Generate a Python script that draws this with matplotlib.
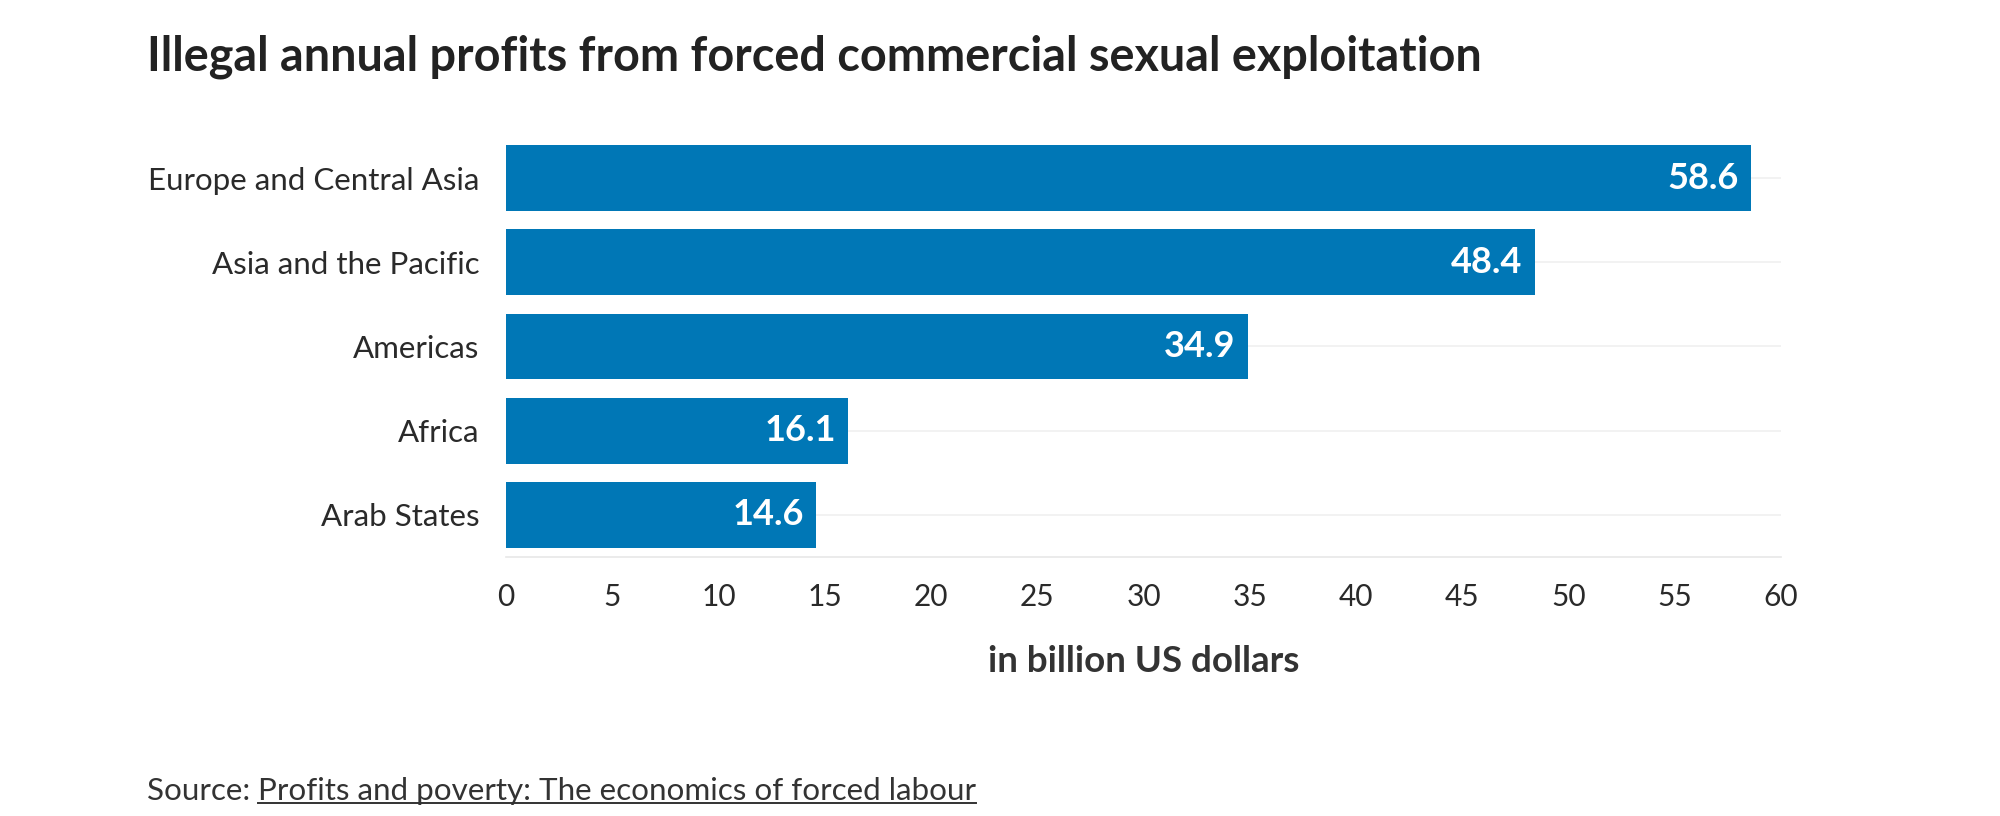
import numpy as np
import matplotlib.pyplot as plt
from matplotlib.lines import Line2D

# data
regions = ['Europe and Central Asia', 'Asia and the Pacific', 'Americas', 'Africa', 'Arab States']
profits = [58.6, 48.4, 34.9, 16.1, 14.6]
xticks = [0, 5, 10, 15, 20, 25, 30, 35, 40, 45, 50, 55, 60]

bar_color = '#0077b6'
text_color = '#333333'
plt.rcParams['font.family'] = ['Lato', 'DejaVu Sans']

fig = plt.figure(figsize=(20, 8.16), dpi=100)
ax = fig.add_axes([0.253, 0.3174, 0.6375, 0.516])

y = np.arange(len(regions))
bars = ax.barh(y, profits, height=0.78, color=bar_color, zorder=3)

for rect, v in zip(bars, profits):
    ax.annotate(f'{v:.1f}', xy=(rect.get_width(), rect.get_y() + rect.get_height() / 2),
                xytext=(-12, 0), textcoords='offset pixels', ha='right', va='center',
                color='white', fontsize=26, fontweight='bold', zorder=4)

ax.set_xlim(0, 60)
ax.set_ylim(len(regions) - 0.5, -0.5)
ax.set_yticks(y)
ax.set_yticklabels(regions, fontsize=22.5, fontweight='normal', color='#2a2a2a')
ax.set_xticks(xticks)
ax.set_xticklabels([str(t) for t in xticks], fontsize=21.5, fontweight='normal', color='#2a2a2a')
ax.tick_params(axis='both', length=0)
ax.tick_params(axis='y', pad=19)
ax.tick_params(axis='x', pad=19)

for s in ['top', 'right', 'left']:
    ax.spines[s].set_visible(False)
ax.spines['bottom'].set_color('#e8e8e8')
ax.spines['bottom'].set_linewidth(1.2)
ax.grid(axis='y', color='#f0f0f0', linewidth=1.2, zorder=0)
ax.grid(axis='x', visible=False)

ax.set_xlabel('in billion US dollars', fontsize=26.5, fontweight='bold', color=text_color, labelpad=24)

fig.text(147 / 2000, 1 - 57 / 816, 'Illegal annual profits from forced commercial sexual exploitation',
         fontsize=33.7, fontweight='bold', color='#222222', ha='left', va='center')

# source line with underlined link text
src1 = fig.text(147 / 2000, 1 - 791 / 816, 'Source: ', fontsize=22.6, color=text_color,
                ha='left', va='center')
fig.canvas.draw()
r = fig.canvas.get_renderer()
bb = src1.get_window_extent(r)
src2 = fig.text(bb.x1 / 2000, 1 - 791 / 816, 'Profits and poverty: The economics of forced labour',
                fontsize=22.6, color=text_color, ha='left', va='center')
fig.canvas.draw()
bb2 = src2.get_window_extent(r)
uy = (bb2.y0 + 2) / 816
fig.add_artist(Line2D([bb2.x0 / 2000, bb2.x1 / 2000], [uy, uy], color=text_color, linewidth=1.4))

fig.savefig('out.png', dpi=100, facecolor='white')
